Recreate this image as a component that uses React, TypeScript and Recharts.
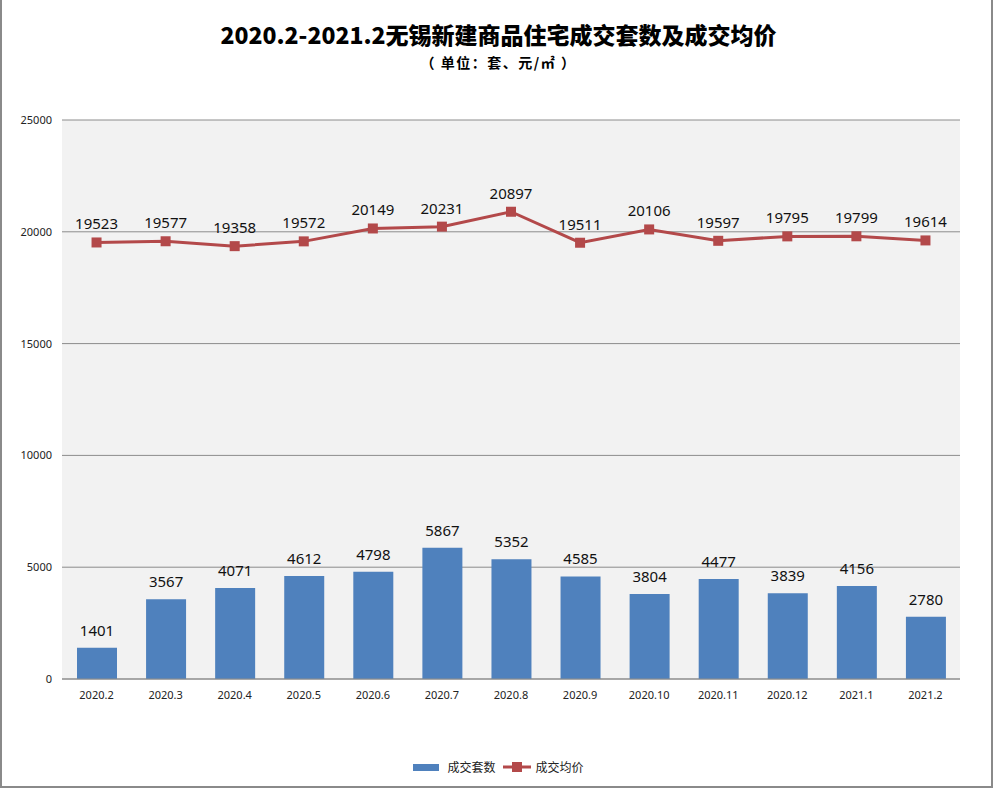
import { ComposedChart, Bar, Line, XAxis, YAxis, CartesianGrid, LabelList } from 'recharts';

const months = ['2020.2', '2020.3', '2020.4', '2020.5', '2020.6', '2020.7', '2020.8', '2020.9', '2020.10', '2020.11', '2020.12', '2021.1', '2021.2'];
const volume = [1401, 3567, 4071, 4612, 4798, 5867, 5352, 4585, 3804, 4477, 3839, 4156, 2780];
const avgPrice = [19523, 19577, 19358, 19572, 20149, 20231, 20897, 19511, 20106, 19597, 19795, 19799, 19614];
const yTicks = [0, 5000, 10000, 15000, 20000, 25000];

const BAR_COLOR = '#4f81bd';
const LINE_COLOR = '#b3494a';
const FONT = '"Noto Sans", "Noto Sans CJK SC", sans-serif';

const data = months.map((m, i) => ({ month: m, volume: volume[i], price: avgPrice[i] }));

// square marker like the excel one
const SquareDot = (props: any) => {
  const { cx, cy } = props;
  if (cx == null || cy == null) return null;
  return <rect x={cx - 5} y={cy - 5} width={10} height={10} fill={LINE_COLOR} />;
};

export default function App() {
  return (
    <div
      style={{
        position: 'absolute',
        left: 0,
        top: 0,
        width: 993,
        height: 788,
        background: '#fff',
        boxSizing: 'border-box',
        borderLeft: '2px solid #8a8a8a',
        borderRight: '2px solid #8a8a8a',
        borderBottom: '2px solid #8a8a8a',
        fontFamily: FONT,
      }}
    >
      {/* Title */}
      <div
        style={{
          position: 'absolute',
          top: 22,
          left: 0,
          width: 993,
          textAlign: 'center',
          fontSize: 23,
          fontWeight: 900,
          color: '#000',
          fontFamily: '"Noto Sans CJK SC", sans-serif',
          lineHeight: '24px',
        }}
      >
        2020.2-2021.2无锡新建商品住宅成交套数及成交均价
      </div>
      <div
        style={{
          position: 'absolute',
          top: 55,
          left: 0,
          width: 993,
          textAlign: 'center',
          fontSize: 14,
          fontWeight: 700,
          color: '#000',
          fontFamily: '"Noto Sans CJK SC", sans-serif',
          lineHeight: '15px',
          letterSpacing: 1.5,
        }}
      >
        （ 单位：套、元/㎡ ）
      </div>

      <div style={{ position: 'absolute', left: -2, top: 0 }}>
        <ComposedChart width={993} height={788} data={data} margin={{ top: 120, right: 33, left: 0, bottom: 79 }}>
          <CartesianGrid vertical={false} stroke="#8c8c8c" fill="#f2f2f2" />
          <XAxis
            dataKey="month"
            height={30}
            axisLine={{ stroke: '#8c8c8c' }}
            tickLine={false}
            tick={{ fontSize: 11, fill: '#222', fontFamily: FONT }}
            tickMargin={6}
            interval={0}
          />
          <YAxis
            width={62}
            domain={[0, 25000]}
            ticks={yTicks}
            axisLine={false}
            tickLine={false}
            tickMargin={4}
            tick={{ fontSize: 11, fill: '#222', fontFamily: FONT }}
          />
          <Bar dataKey="volume" fill={BAR_COLOR} barSize={40} isAnimationActive={false}>
            <LabelList dataKey="volume" position="top" offset={12} style={{ fontSize: 15, fill: '#111', fontFamily: FONT }} />
          </Bar>
          <Line
            dataKey="price"
            stroke={LINE_COLOR}
            strokeWidth={3}
            dot={<SquareDot />}
            activeDot={false}
            isAnimationActive={false}
          >
            <LabelList dataKey="price" position="top" offset={13} style={{ fontSize: 15, fill: '#111', fontFamily: FONT }} />
          </Line>
        </ComposedChart>
      </div>

      {/* Legend */}
      <div
        style={{
          position: 'absolute',
          top: 758,
          left: 0,
          width: 993,
          display: 'flex',
          justifyContent: 'center',
          alignItems: 'center',
          fontSize: 12,
          color: '#222',
          gap: 4,
        }}
      >
        <span style={{ display: 'inline-block', width: 26, height: 7, background: BAR_COLOR, marginRight: 4 }} />
        <span>成交套数</span>
        <svg width={30} height={12} style={{ marginLeft: 2 }}>
          <line x1={1} y1={6} x2={29} y2={6} stroke={LINE_COLOR} strokeWidth={3} />
          <rect x={10} y={1} width={10} height={10} fill={LINE_COLOR} />
        </svg>
        <span>成交均价</span>
      </div>
    </div>
  );
}
